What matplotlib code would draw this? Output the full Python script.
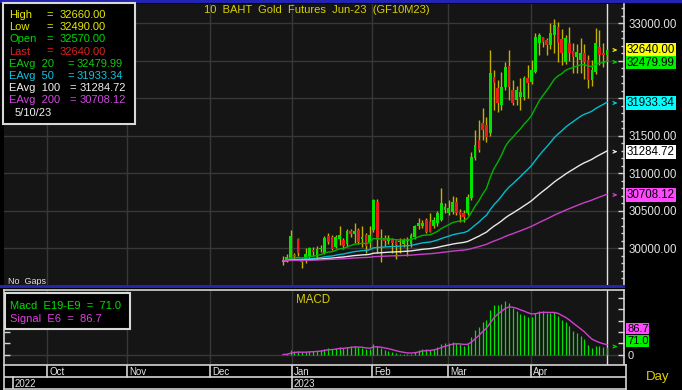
import numpy as np
import pandas as pd
import matplotlib
matplotlib.use("Agg")
import matplotlib.pyplot as plt
from matplotlib.patches import Rectangle
from matplotlib.ticker import MultipleLocator, FixedLocator, NullFormatter

plt.rcParams['font.family'] = ['Liberation Sans', 'DejaVu Sans']

# ---------------- data ----------------
title = "10  BAHT  Gold  Futures  Jun-23  (GF10M23)"
opens = [29820, 29830, 29868, 29900, 30125, 29850, 29846, 29890, 29980, 29880,
         29990, 29935, 30165, 30150, 30020, 30120, 30110, 30050, 30230, 30190,
         30240, 30120, 30180, 30070, 30245, 30620, 30130, 30140, 30095, 30110,
         30100, 30080, 30060, 30090, 30060, 30150, 30300, 30290, 30380, 30350,
         30300, 30330, 30380, 30510, 30466, 30480, 30613, 30480, 30467, 30467,
         30667, 31200, 31440, 31667, 31640, 31533, 32280, 32133, 31907, 32151,
         32427, 32107, 31973, 32010, 32013, 32267, 32213, 32347, 32733, 32813,
         32773, 32707, 32840, 32947, 32787, 32480, 32733, 32627, 32547, 32507,
         32600, 32507, 32240, 32347, 32680, 32600, 32570]
highs = [29890, 29920, 30236, 29930, 30140, 29870, 30000, 30020, 30020, 30030,
         30040, 30160, 30200, 30170, 30180, 30290, 30140, 30260, 30250, 30340,
         30270, 30290, 30200, 30290, 30660, 30650, 30250, 30180, 30170, 30140,
         30110, 30140, 30140, 30150, 30200, 30310, 30400, 30370, 30400, 30470,
         30420, 30500, 30800, 30600, 30640, 30690, 30680, 30520, 30510, 30720,
         31280, 31573, 31707, 31867, 31747, 32640, 32373, 32240, 32351, 32484,
         32640, 32240, 32160, 32267, 32290, 32440, 32507, 32867, 32867, 32813,
         32800, 33000, 33053, 33013, 32920, 32840, 32947, 32733, 32720, 32800,
         32720, 32573, 32507, 32933, 32907, 32733, 32660]
lows = [29770, 29810, 29846, 29860, 29890, 29735, 29800, 29870, 29900, 29860,
        29950, 29920, 30060, 29970, 30000, 30040, 29990, 30020, 30150, 30070,
        30060, 30020, 29940, 30000, 30220, 29930, 29820, 30030, 30060, 29930,
        29850, 29930, 30020, 29890, 30020, 30120, 30250, 30270, 30200, 30210,
        30270, 30300, 30360, 30470, 30440, 30460, 30440, 30347, 30347, 30440,
        30640, 31173, 31280, 31440, 31413, 31500, 31840, 31813, 31840, 32107,
        31973, 31907, 31907, 31840, 31980, 32000, 32190, 32340, 32573, 32680,
        32573, 32653, 32600, 32480, 32440, 32450, 32500, 32333, 32333, 32333,
        32253, 32133, 32160, 32320, 32440, 32413, 32490]
closes = [29830, 29880, 30156, 29890, 29935, 29810, 29926, 30000, 29950, 29990,
          30000, 30140, 30076, 29990, 30150, 30180, 30030, 30230, 30190, 30230,
          30080, 30150, 30030, 30180, 30640, 30110, 30110, 30095, 30140, 30070,
          30040, 30090, 30110, 30100, 30170, 30290, 30330, 30340, 30220, 30220,
          30380, 30470, 30600, 30550, 30530, 30620, 30467, 30440, 30413, 30680,
          31213, 31373, 31307, 31573, 31480, 32333, 32200, 31933, 32151, 32418,
          32151, 31929, 32107, 32080, 32267, 32200, 32373, 32813, 32840, 32747,
          32707, 32867, 32973, 32733, 32600, 32800, 32600, 32547, 32613, 32600,
          32480, 32240, 32373, 32733, 32573, 32573, 32640]

ema_periods = [20, 50, 100, 200]
ema_last = [32479.99, 31933.34, 31284.72, 30708.12]
macd_fast, macd_slow, signal_span = 9, 19, 6
macd_last, signal_last = 71.0, 86.7
date_text = "5/10/23"

month_labels = ['Oct', 'Nov', 'Dec', 'Jan', 'Feb', 'Mar', 'Apr']
month_pos = [-62.6, -41.4, -19.4, 2.4, 23.6, 43.8, 65.8]
year_labels = ['2022', '2023']
year_pos = [-71.7, 2.4]
price_labelled_ticks = [29500, 30000, 30500, 31000, 31500, 33000]

# ---------------- derived indicators ----------------
cs = pd.Series(closes, dtype=float)
emas = [cs.ewm(span=p, adjust=False).mean().values for p in ema_periods]
macd = (cs.ewm(span=macd_fast, adjust=False).mean() -
        cs.ewm(span=macd_slow, adjust=False).mean())
signal = macd.ewm(span=signal_span, adjust=False).mean()

o = np.array(opens, float); h = np.array(highs, float)
l = np.array(lows, float); c = np.array(closes, float)
idx = np.arange(len(c))

# ---------------- layout ----------------
W, H = 682, 390
fig = plt.figure(figsize=(W / 100, H / 100), dpi=100, facecolor='black')

def rect(x0, y0, x1, y1):
    return [x0 / W, 1 - y1 / H, (x1 - x0) / W, (y1 - y0) / H]

def fx(px): return px / W
def fy(py): return 1 - py / H

BAR0_PX, BAR_DX = 283.0, 3.767
def px2i(px):
    return (px - BAR0_PX) / BAR_DX

PLOT_BG = '#151515'
GRID = '#383838'
SPINE = '#d4d4d4'
TXT = '#e4e4e4'
UP, DOWN, WICK = '#00e400', '#ec1c1c', '#c4b000'
EMA_COL = ['#00b400', '#00bcd0', '#e8e8e8', '#c840c8']
LBL_COL = ['#00f000', '#00ffff', '#ffffff', '#ff48ff']
ARR_COL = ['#00d000', '#00c8d8', '#e8e8e8', '#d040d0']

# price panel
ax = fig.add_axes(rect(4, 4, 624, 285))
ax.set_facecolor(PLOT_BG)
ax.set_xlim(px2i(4), px2i(624))
ax.set_ylim(33000 - (285 - 23) * 500 / 37.5, 33000 + (23 - 4) * 500 / 37.5)
for s in ['left', 'top', 'bottom']:
    ax.spines[s].set_visible(False)
ax.spines['right'].set_color(SPINE)
ax.spines['right'].set_linewidth(1.2)
ax.yaxis.tick_right()
ax.yaxis.set_major_locator(MultipleLocator(500))
ax.yaxis.set_minor_locator(MultipleLocator(100))
ax.yaxis.set_major_formatter(
    lambda v, p: f"{v:.2f}" if round(v) in price_labelled_ticks else "")
ax.tick_params(axis='y', which='major', direction='in', length=4.5, width=1,
               color=SPINE, labelcolor=TXT, labelsize=8.3, pad=3)
ax.tick_params(axis='y', which='minor', direction='in', length=2.5, width=1, color=SPINE)
ax.xaxis.set_major_locator(FixedLocator(month_pos))
ax.tick_params(axis='x', length=0, labelbottom=False)
ax.grid(True, color=GRID, lw=1)
ax.set_axisbelow(True)

ax.axvline(idx[-1], color='#e0e0e0', lw=1, zorder=1.5)

# candles
ax.vlines(idx, l, h, color=WICK, lw=1, zorder=3)
up = c >= o
body = np.maximum(np.abs(c - o), 14)
ax.bar(idx[up], body[up], bottom=o[up], width=0.72, color=UP, lw=0, zorder=4)
ax.bar(idx[~up], body[~up], bottom=c[~up], width=0.72, color=DOWN, lw=0, zorder=4)

for e, col in zip(emas, EMA_COL):
    ax.plot(idx, e, color=col, lw=1, zorder=5)

ax.text(px2i(8), 33000 - (281 - 23) * 500 / 37.5, "No  Gaps", color=TXT, fontsize=6.5,
        ha='left', va='center')

# MACD panel
MZ, MSC = 354.5, 8.85
axm = fig.add_axes(rect(4, 290, 624, 365))
axm.set_facecolor(PLOT_BG)
axm.set_xlim(px2i(4), px2i(624))
axm.set_ylim((MZ - 365) * MSC, (MZ - 290) * MSC)
for s in ['left', 'right', 'top']:
    axm.spines[s].set_color(SPINE)
    axm.spines[s].set_linewidth(1.2)
axm.spines['bottom'].set_visible(False)
axm.yaxis.set_ticks_position('both')
axm.yaxis.set_major_locator(MultipleLocator(100))
axm.yaxis.set_major_formatter(NullFormatter())
axm.tick_params(axis='y', direction='in', length=4, width=1, color=SPINE)
axm.xaxis.set_major_locator(FixedLocator(month_pos))
axm.tick_params(axis='x', length=0, labelbottom=False)
axm.grid(True, axis='x', color=GRID, lw=1)
axm.axhline(0, color=GRID, lw=1, zorder=0.5)
axm.axvline(idx[-1], color='#e0e0e0', lw=1, zorder=1.5)
axm.vlines(idx, 0, macd.values, color='#00e400', lw=0.9, zorder=3)
axm.plot(idx, signal.values, color='#d040d0', lw=1, zorder=4)
axm.text(px2i(313), (MZ - 300) * MSC, "MACD", color='#d8d000', fontsize=8.3,
         ha='center', va='center')

# ---------- right-hand value labels (stacked so they do not collide) ----------
def fig_py(axis, v):
    return H - axis.transData.transform((0, v))[1]

def stack(items, gap):
    items = sorted(items, key=lambda t: t[0])
    ys = [t[0] for t in items]
    for k in range(1, len(ys)):
        if ys[k] - ys[k - 1] < gap:
            d = gap - (ys[k] - ys[k - 1])
            ys[k - 1] -= d / 2
            ys[k] += d / 2
    return [(y,) + t[1:] for y, t in zip(ys, items)]

arr0, arr1 = px2i(612), px2i(620)
price_items = [(fig_py(ax, c[-1]), f"{c[-1]:.2f}", '#ffff00')] + \
    [(fig_py(ax, v), f"{v:.2f}", bc) for v, bc in zip(ema_last, LBL_COL)]
for py, s, bc in stack(price_items, 13.0):
    fig.text(fx(627), fy(py), s, ha='left', va='center', fontsize=8.3, color='black',
             zorder=12, bbox=dict(boxstyle='square,pad=0.08', fc=bc, ec='none'))
for v, ac in zip([c[-1]] + ema_last, ['#e8e800'] + ARR_COL):
    ax.annotate('', xy=(arr1, v), xytext=(arr0, v), annotation_clip=False,
                arrowprops=dict(arrowstyle='->', color=ac, lw=0.9, mutation_scale=5))

py0 = fig_py(axm, 0)
py_m = fig_py(axm, macd_last)
py_m = min(py_m, py0 - 12.5) if py0 - py_m < 12.5 else py_m
fig.text(fx(628), fy(py0 + 1.5), "0", ha='left', va='center', fontsize=8, color=TXT, zorder=12)
fig.text(fx(627), fy(py_m - 1), f"{macd_last:.1f}", ha='left', va='center', fontsize=8,
         color='black', zorder=12, bbox=dict(boxstyle='square,pad=0.05', fc='#00f000', ec='none'))
fig.text(fx(627), fy(py_m - 13.5), f"{signal_last:.1f}", ha='left', va='center', fontsize=8,
         color='black', zorder=12, bbox=dict(boxstyle='square,pad=0.05', fc='#ff48ff', ec='none'))
axm.annotate('', xy=(arr1, macd_last), xytext=(arr0, macd_last), annotation_clip=False,
             arrowprops=dict(arrowstyle='->', color='#00d000', lw=0.9, mutation_scale=5))

# date axis
axd = fig.add_axes(rect(4, 365, 626, 389))
axd.set_facecolor('black')
axd.set_xlim(px2i(4), px2i(626))
axd.set_ylim(0, 2)
for s in axd.spines.values():
    s.set_color(SPINE)
    s.set_linewidth(1.2)
axd.set_xticks([]); axd.set_yticks([])
axd.axhline(1, color=SPINE, lw=1.2)
for p, m in zip(month_pos, month_labels):
    axd.plot([p, p], [1, 2], color=SPINE, lw=1.2)
    axd.text(p + 0.5, 1.45, m, color=TXT, fontsize=7, ha='left', va='center')
for p, yl in zip(year_pos, year_labels):
    axd.plot([p, p], [0, 1], color=SPINE, lw=1.2)
    axd.text(p + 0.5, 0.45, yl, color=TXT, fontsize=7, ha='left', va='center')

# figure level decorations
fig.add_artist(Rectangle((0, fy(3)), 1, 3 / H, transform=fig.transFigure,
                         fc='#2424b4', ec='none', zorder=20))
fig.add_artist(Rectangle((0, fy(288)), 625 / W, 3 / H, transform=fig.transFigure,
                         fc='#2424b4', ec='none', zorder=20))
fig.text(fx(430), fy(10), title, color='#d8d000', fontsize=8, ha='right', va='center')
fig.text(fx(658), fy(377), "Day", color='#e0d000', fontsize=9.5, ha='center', va='center')

# OHLC / EMA legend box
fig.add_artist(Rectangle((fx(2.5), fy(124)), 132 / W, 121.5 / H, transform=fig.transFigure,
                         fc='black', ec='#d8d8d8', lw=1.5, zorder=30))
rows = [("High", f"{h[-1]:.2f}", '#e8e800', 46, 60),
        ("Low", f"{l[-1]:.2f}", '#e8e800', 46, 60),
        ("Open", f"{o[-1]:.2f}", '#00d800', 46, 60),
        ("Last", f"{c[-1]:.2f}", '#e42020', 46, 60)]
for p, v, col in zip(ema_periods, ema_last, ['#10c810', '#10c4e0', '#f0f0f0', '#d048e0']):
    rows.append((f"EAvg  {p}", f"{v:.2f}", col, 67 if p < 100 else 69, 77 if p < 100 else 80))
for k, (lab, val, col, xe, xv) in enumerate(rows):
    yy = 15 + 12.2 * k
    fig.text(fx(9), fy(yy), lab, color=col, fontsize=8, ha='left', va='center', zorder=31)
    fig.text(fx(xe), fy(yy), "=", color=col, fontsize=8, ha='left', va='center', zorder=31)
    fig.text(fx(xv), fy(yy), val, color=col, fontsize=8, ha='left', va='center', zorder=31)
fig.text(fx(15), fy(112.5), date_text, color='#f0f0f0', fontsize=8, ha='left', va='center', zorder=31)

# MACD legend box
fig.add_artist(Rectangle((fx(5), fy(329)), 125 / W, 36 / H, transform=fig.transFigure,
                         fc='black', ec='#d8d8d8', lw=1.5, zorder=30))
fig.text(fx(9.5), fy(306), f"Macd  E{macd_slow}-E{macd_fast}  =  {macd_last:.1f}",
         color='#00e000', fontsize=8, ha='left', va='center', zorder=31)
fig.text(fx(9.5), fy(318.5), f"Signal  E{signal_span}  =  {signal_last:.1f}",
         color='#e040e0', fontsize=8, ha='left', va='center', zorder=31)

fig.savefig("out.png", dpi=100, facecolor='black')
